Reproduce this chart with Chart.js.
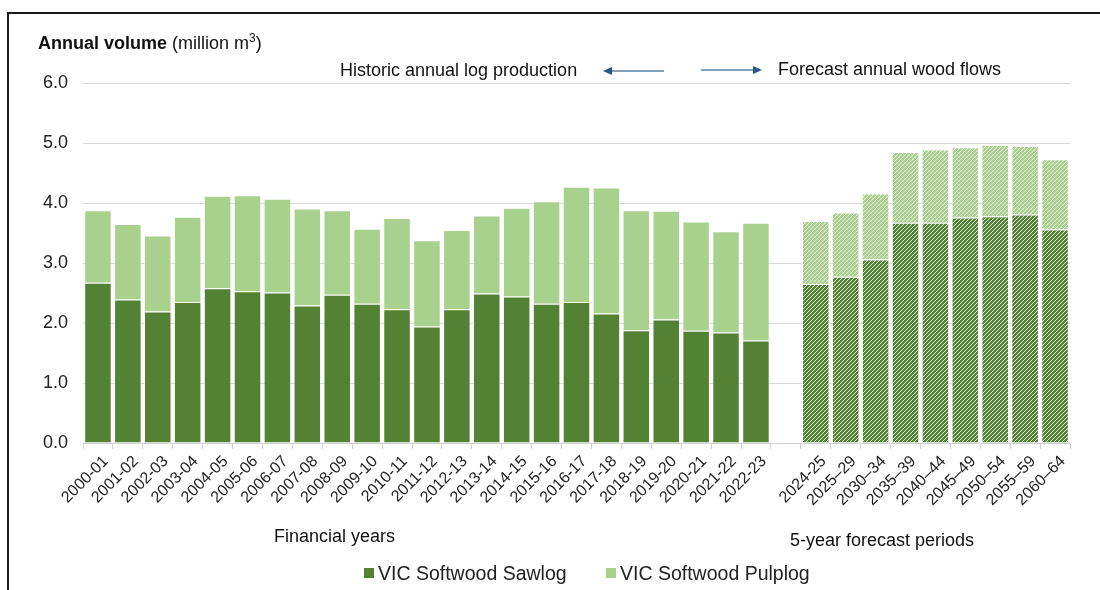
<!DOCTYPE html>
<html>
<head>
<meta charset="utf-8">
<script src="https://cdn.jsdelivr.net/npm/chart.js@4"></script>
<style>
  body { margin: 0; background: #fff; }
  #wrap { position: relative; width: 1100px; height: 590px; }
  #frame { position: absolute; left: 7px; top: 12px; right: 0; bottom: 0;
           border-top: 2px solid #1a1a1a; border-left: 2px solid #1a1a1a; pointer-events: none; }
</style>
</head>
<body>
<div id="wrap">
  <canvas id="myChart" width="1100" height="590"></canvas>
  <div id="frame"></div>
</div>
<script>
// historic financial years
const histYears = ['2000-01','2001-02','2002-03','2003-04','2004-05','2005-06','2006-07','2007-08',
  '2008-09','2009-10','2010-11','2011-12','2012-13','2013-14','2014-15','2015-16','2016-17',
  '2017-18','2018-19','2019-20','2020-21','2021-22','2022-23']
const sawHist  = [2.67,2.39,2.19,2.35,2.58,2.53,2.51,2.29,2.47,2.32,2.23,1.94,2.23,2.49,2.44,2.32,2.35,2.16,1.88,2.06,1.87,1.84,1.71]
const pulpHist = [1.21,1.26,1.27,1.42,1.54,1.60,1.56,1.62,1.41,1.25,1.52,1.44,1.32,1.30,1.48,1.71,1.92,2.10,2.00,1.81,1.82,1.69,1.96]

// forecast periods
const fcstPeriods = ['2024-25','2025\u201329','2030\u201334','2035\u201339','2040\u201344','2045\u201349','2050\u201354','2055\u201359','2060\u201364']
const sawFcst  = [2.65,2.77,3.06,3.67,3.67,3.76,3.78,3.81,3.56]
const pulpFcst = [1.05,1.07,1.10,1.18,1.22,1.17,1.19,1.14,1.17]

const yTicks = [0,1,2,3,4,5,6]
const seriesNames = ['VIC Softwood Sawlog', 'VIC Softwood Pulplog']

const sawColor = '#548235'
const pulpColor = '#a9d18e'
const FONT = "'Liberation Sans', Arial, sans-serif"

function hatch(color) {
    const c = document.createElement('canvas')
    c.width = 4; c.height = 4
    const g = c.getContext('2d')
    g.fillStyle = color
    g.fillRect(0, 0, 4, 4)
    g.strokeStyle = 'rgba(255,255,255,0.85)'
    g.lineWidth = 1
    g.beginPath()
    g.moveTo(-1, 5); g.lineTo(5, -1)
    g.moveTo(-1, 1); g.lineTo(1, -1)
    g.moveTo(3, 5); g.lineTo(5, 3)
    g.stroke()
    return g.createPattern(c, 'repeat')
}

const sawPat = hatch(sawColor)
const pulpPat = hatch(pulpColor)

// one blank slot between history and forecast
const labels = histYears.concat([''], fcstPeriods)
const sawData = sawHist.concat([null], sawFcst)
const pulpData = pulpHist.concat([null], pulpFcst)
const sawBg = histYears.map(() => sawColor).concat([sawColor], fcstPeriods.map(() => sawPat))
const pulpBg = histYears.map(() => pulpColor).concat([pulpColor], fcstPeriods.map(() => pulpPat))

const annotations = {
    id: 'annotations',
    afterDraw(chart) {
        const ctx = chart.ctx
        ctx.save()
        ctx.fillStyle = '#111'
        ctx.textBaseline = 'alphabetic'
        ctx.textAlign = 'left'
        // axis title
        ctx.font = 'bold 18px ' + FONT
        ctx.fillText('Annual volume', 38, 49)
        let x = 38 + ctx.measureText('Annual volume ').width
        ctx.font = '18px ' + FONT
        ctx.fillText('(million m', x, 49)
        x += ctx.measureText('(million m').width
        ctx.font = '12px ' + FONT
        ctx.fillText('3', x, 42)
        x += ctx.measureText('3').width
        ctx.font = '18px ' + FONT
        ctx.fillText(')', x, 49)

        ctx.font = '18px ' + FONT
        ctx.fillText('Historic annual log production', 340, 76)
        ctx.fillText('Forecast annual wood flows', 778, 75)
        ctx.fillText('Financial years', 274, 542)
        ctx.fillText('5-year forecast periods', 790, 546)

        // arrows
        ctx.strokeStyle = '#5b7fa6'
        ctx.fillStyle = '#2c5784'
        ctx.lineWidth = 1.5
        ctx.beginPath(); ctx.moveTo(664, 71); ctx.lineTo(610, 71); ctx.stroke()
        ctx.beginPath(); ctx.moveTo(603, 71); ctx.lineTo(612, 67); ctx.lineTo(612, 75); ctx.closePath(); ctx.fill()
        ctx.beginPath(); ctx.moveTo(701, 70); ctx.lineTo(755, 70); ctx.stroke()
        ctx.beginPath(); ctx.moveTo(762, 70); ctx.lineTo(753, 66); ctx.lineTo(753, 74); ctx.closePath(); ctx.fill()

        // legend
        ctx.font = '19.5px ' + FONT
        ctx.fillStyle = sawColor
        ctx.fillRect(364, 568, 10, 10)
        ctx.fillStyle = pulpColor
        ctx.fillRect(606, 568, 10, 10)
        ctx.fillStyle = '#222'
        ctx.fillText(seriesNames[0], 378, 580)
        ctx.fillText(seriesNames[1], 620, 580)
        ctx.restore()
    }
}

var ctx = document.getElementById('myChart')

var myChart = new Chart(ctx, {
    type: 'bar',
    data: {
        labels: labels,
        datasets: [{
            label: seriesNames[0],
            data: sawData,
            backgroundColor: sawBg,
            borderColor: 'rgba(255,255,255,0.35)',
            borderWidth: 1,
            barPercentage: 0.92,
            categoryPercentage: 1
        }, {
            label: seriesNames[1],
            data: pulpData,
            backgroundColor: pulpBg,
            borderColor: 'rgba(255,255,255,0.35)',
            borderWidth: 1,
            barPercentage: 0.92,
            categoryPercentage: 1
        }]
    },
    options: {
        responsive: false,
        animation: false,
        layout: { padding: { left: 8, right: 30, top: 83, bottom: 0 } },
        plugins: {
            tooltip: { enabled: false },
            legend: { display: false }
        },
        scales: {
            x: {
                stacked: true,
                offset: true,
                grid: { display: true, drawOnChartArea: false, color: '#d0d0d0', tickLength: 6, offset: true },
                border: { color: '#d0d0d0' },
                ticks: {
                    color: '#222',
                    font: { family: FONT, size: 16 },
                    minRotation: 45,
                    maxRotation: 45,
                    autoSkip: false,
                    padding: 3,
                    labelOffset: 8
                },
                afterFit(s) { s.height = 147 }
            },
            y: {
                stacked: true,
                min: yTicks[0],
                max: yTicks[yTicks.length - 1],
                grid: { color: '#d9d9d9', drawTicks: false },
                border: { display: false },
                ticks: {
                    stepSize: 1,
                    color: '#222',
                    padding: 15,
                    font: { family: FONT, size: 18 },
                    callback: v => v.toFixed(1)
                },
                afterFit(s) { s.width = 75 }
            }
        }
    },
    plugins: [annotations]
});
</script>
</body>
</html>
